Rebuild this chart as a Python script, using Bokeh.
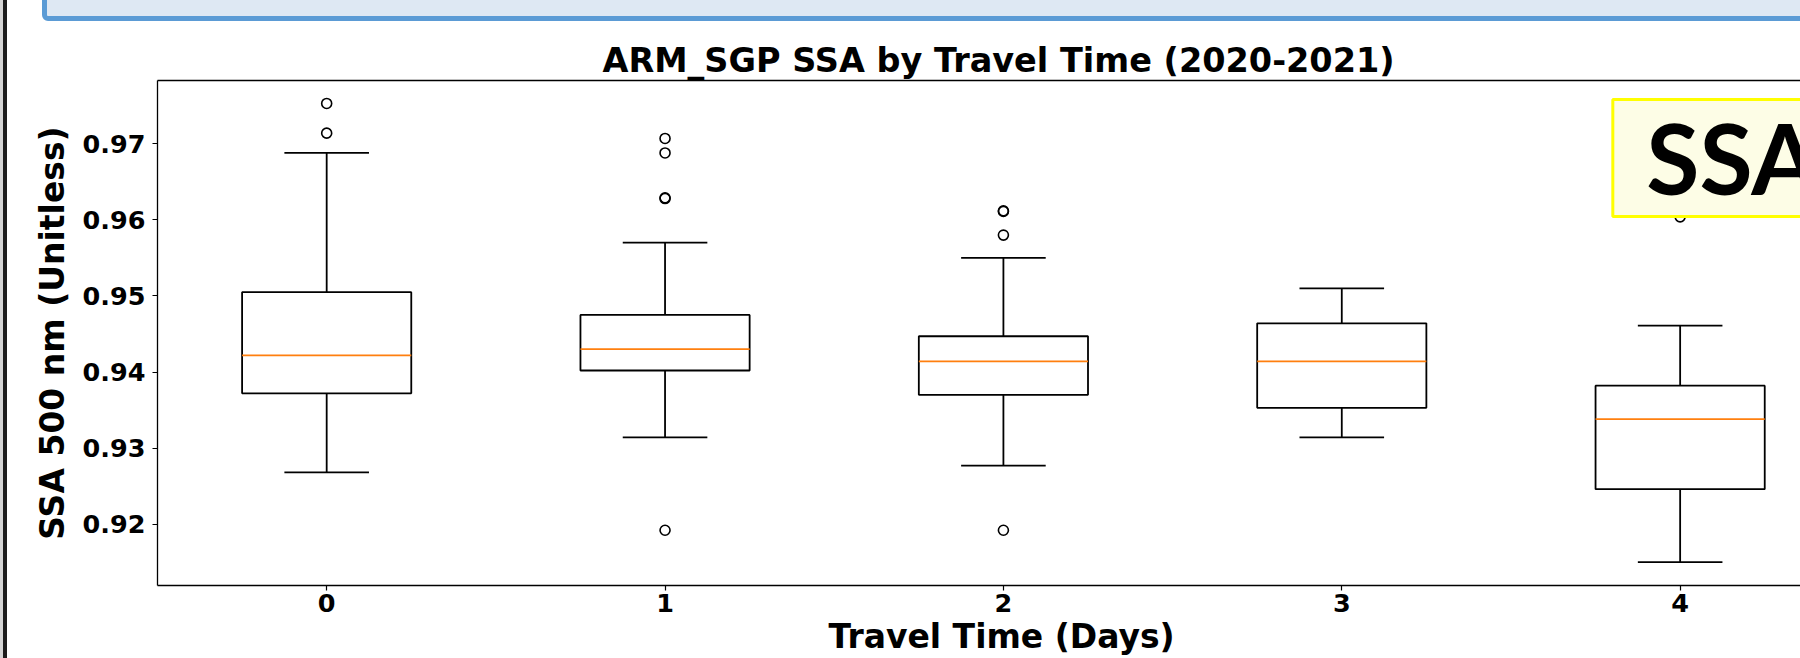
from bokeh.plotting import figure
from bokeh.models import (Range1d, FixedTicker, LinearAxis, BoxAnnotation, Label, Title,
                          NumeralTickFormatter, ColumnDataSource, Div)
from bokeh.layouts import row, column
from bokeh.embed import file_html
from bokeh.resources import INLINE

# ---------------- data ----------------
categories = [0, 1, 2, 3, 4]
lower_whisker = [0.9268, 0.9314, 0.9277, 0.9314, 0.9150]
q1 = [0.9372, 0.9402, 0.9370, 0.9353, 0.9246]
median = [0.9422, 0.9430, 0.9414, 0.9414, 0.9338]
q3 = [0.9505, 0.9475, 0.9447, 0.9464, 0.9382]
upper_whisker = [0.9688, 0.9570, 0.9550, 0.9510, 0.9461]
outlier_x = [0, 0, 1, 1, 1, 1, 1, 2, 2, 2, 2, 4]
outlier_y = [0.9753, 0.9714, 0.9707, 0.9688, 0.9629, 0.9628, 0.9192,
             0.9612, 0.9611, 0.9580, 0.9192, 0.9604]
y_ticks = [0.92, 0.93, 0.94, 0.95, 0.96, 0.97]
x_ticks = [0, 1, 2, 3, 4]
title_text = "ARM_SGP SSA by Travel Time (2020-2021)"
x_label = "Travel Time (Days)"
y_label = "SSA 500 nm (Unitless)"
badge_text = "SSA"

BOX_W = 0.5
CAP_W = 0.25
FONT = "DejaVu Sans"

p = figure(width=1793, height=636, output_backend="svg", toolbar_location=None,
           x_range=Range1d(-0.5, 4.3557), y_range=Range1d(0.91194, 0.97832),
           min_border_left=150, min_border_right=0, min_border_top=58,
           min_border_bottom=73, margin=0)
p.background_fill_color = "white"
p.border_fill_color = "white"
p.outline_line_color = None
p.xgrid.visible = False
p.ygrid.visible = False

# title
p.title.text = title_text
p.title.align = "left"
p.title.offset = 445
p.title.standoff = 2
p.title.text_font = FONT
p.title.text_font_style = "bold"
p.title.text_font_size = "33.5px"
p.title.text_color = "black"

# axes
for ax in (p.xaxis[0], p.yaxis[0]):
    ax.major_label_text_font = FONT
    ax.major_label_text_font_style = "bold"
    ax.major_label_text_font_size = "25.5px"
    ax.major_label_text_color = "black"
    ax.major_tick_out = 5
    ax.major_tick_in = 0
    ax.minor_tick_out = 0
    ax.minor_tick_in = 0
    ax.axis_line_width = 1.3
    ax.axis_line_color = "black"
    ax.major_tick_line_color = "black"
    ax.major_tick_line_width = 1.2

p.yaxis[0].ticker = FixedTicker(ticks=y_ticks)
p.yaxis[0].formatter = NumeralTickFormatter(format="0.00")
p.yaxis[0].major_label_standoff = 7
p.yaxis[0].axis_label = y_label
p.yaxis[0].axis_label_text_font = FONT
p.yaxis[0].axis_label_text_font_style = "bold"
p.yaxis[0].axis_label_text_font_size = "33px"
p.yaxis[0].axis_label_text_color = "black"
p.yaxis[0].axis_label_standoff = 8

p.xaxis[0].ticker = FixedTicker(ticks=x_ticks)
p.xaxis[0].major_label_standoff = 3

# x axis title (placed like matplotlib: centred on the full axes width)
p.add_layout(Title(text=x_label, align="left", offset=671, standoff=0,
                   text_font=FONT, text_font_style="bold", text_font_size="33px",
                   text_color="black"), "below")

# top frame border
top_ax = LinearAxis(ticker=FixedTicker(ticks=[]), major_label_text_font_size="0px",
                    major_tick_out=0, major_tick_in=0, minor_tick_out=0, minor_tick_in=0,
                    axis_line_width=1.3, axis_line_color="black")
p.add_layout(top_ax, "above")

# ---------------- boxes ----------------
src = ColumnDataSource(dict(
    x=categories, lw=lower_whisker, q1=q1, med=median, q3=q3, uw=upper_whisker,
    bl=[c - BOX_W / 2 for c in categories], br=[c + BOX_W / 2 for c in categories],
    cl=[c - CAP_W / 2 for c in categories], cr=[c + CAP_W / 2 for c in categories],
))
# whiskers
p.segment(x0="x", y0="q3", x1="x", y1="uw", source=src, line_color="black", line_width=1.8)
p.segment(x0="x", y0="q1", x1="x", y1="lw", source=src, line_color="black", line_width=1.8)
# caps
p.segment(x0="cl", y0="uw", x1="cr", y1="uw", source=src, line_color="black", line_width=1.8)
p.segment(x0="cl", y0="lw", x1="cr", y1="lw", source=src, line_color="black", line_width=1.8)
# boxes
p.vbar(x="x", width=BOX_W, top="q3", bottom="q1", source=src, fill_color=None,
       line_color="black", line_width=1.8)
# medians
p.segment(x0="bl", y0="med", x1="br", y1="med", source=src, line_color="#ff7f0e", line_width=1.7)
# fliers
p.scatter(x=outlier_x, y=outlier_y, marker="circle", size=10, fill_color=None,
          line_color="black", line_width=1.6)

# ---------------- slide decorations ----------------
# yellow "SSA" badge overlaid on the chart
p.add_layout(BoxAnnotation(left=3.801, right=4.6, top=0.97582, bottom=0.96044,
                           fill_color="#fdfde6", fill_alpha=1.0,
                           line_color="#ffff00", line_width=3, line_alpha=1.0))
p.add_layout(Label(x=3.8996, y=0.96820, x_units="data", y_units="data",
                   text=badge_text, text_align="left", text_baseline="alphabetic",
                   text_font="Lato", text_font_style="bold", text_font_size="97px",
                   text_color="black"))

# header box at the top of the slide
header = Div(width=1793, height=22, margin=0,
             styles={"overflow": "hidden", "position": "relative", "background": "white"},
             text='<div style="position:absolute;left:35px;top:-40px;width:1800px;'
                  'height:61px;background:#dee8f3;border:5px solid #5b9bd5;'
                  'border-radius:6px;box-sizing:border-box;"></div>')
# slide edge line on the left
edge = Div(width=7, height=658, margin=0,
           styles={"background": "linear-gradient(to right, #d4d4d4 0px, #d4d4d4 3px, "
                                 "#1c1c1c 3px, #1c1c1c 7px)"})

layout = row(edge, column(header, p, spacing=0, margin=0), spacing=0, margin=0)

open("out.html", "w").write(file_html(layout, INLINE))
